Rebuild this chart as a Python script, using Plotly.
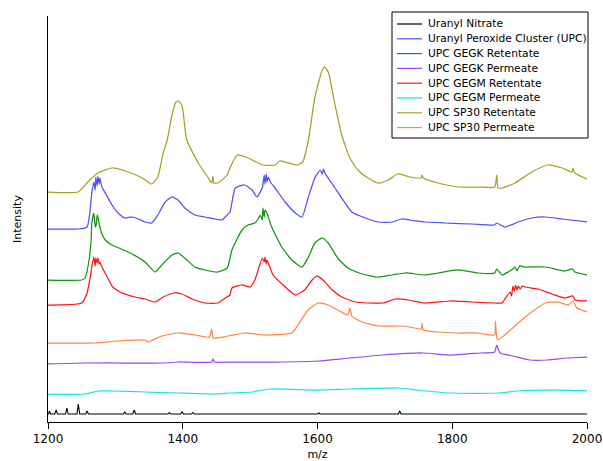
import plotly.graph_objects as go

# ---------------- data (stacked spectra, arbitrary intensity units) ----------------
names = [
    "Uranyl Nitrate",
    "Uranyl Peroxide Cluster (UPC)",
    "UPC GEGK Retentate",
    "UPC GEGK Permeate",
    "UPC GEGM Retentate",
    "UPC GEGM Permeate",
    "UPC SP30 Retentate",
    "UPC SP30 Permeate",
]
colors = ["#000000", "#4f4fff", "#129612", "#9a48f5", "#ff1414", "#10e4f2", "#a3a328", "#ff8448"]

un_mz = [1200, 1201, 1202, 1204, 1210, 1212, 1214, 1226, 1228, 1230, 1243, 1245, 1247, 1256, 1258, 1260,
         1312, 1314, 1316, 1326, 1328, 1330, 1378, 1380, 1382, 1397, 1399, 1401, 1413, 1415, 1417,
         1600, 1602, 1604, 1720, 1722, 1724, 2000]
un_i = [8, 8, 11, 8, 8, 12, 8, 8, 14, 8, 8, 18, 8, 8, 11, 8,
        8, 10, 8, 8, 12, 8, 8, 9.5, 8, 8, 10.5, 8, 8, 9.5, 8,
        8, 9, 8, 8, 11, 8, 8]

upc_mz = [1200, 1245, 1258, 1262, 1265, 1268, 1270, 1271, 1273, 1274, 1276, 1277, 1280, 1285, 1295, 1304,
          1314, 1325, 1334, 1344, 1354, 1363, 1374, 1384, 1393, 1403, 1418, 1433, 1448, 1458, 1463, 1470,
          1478, 1492, 1503, 1510, 1518, 1521, 1522, 1524, 1525, 1527, 1530, 1537, 1552, 1567, 1577, 1586,
          1596, 1604, 1607, 1609, 1611, 1626, 1641, 1651, 1671, 1690, 1711, 1725, 1737, 1760, 1789, 1829,
          1863, 1866, 1878, 1898, 1918, 1938, 1963, 2000]
upc_i = [193, 193, 195, 209, 229, 240, 232, 245, 236, 246, 238, 244, 235, 229, 217, 209,
         204, 205, 203, 200, 199, 207, 220, 225, 222, 214, 207, 205, 203, 202, 205, 210,
         234, 237, 232, 225, 234, 247, 238, 248, 240, 245, 240, 234, 220, 209, 205, 224,
         244, 252, 248, 253, 249, 234, 219, 210, 204, 200, 200, 203, 202, 200, 199, 198,
         197, 199, 195, 200, 204, 205, 203, 200]

gk_ret_mz = [1200, 1250, 1255, 1261, 1264, 1265, 1268, 1270, 1271, 1273, 1274, 1276, 1277, 1280, 1285, 1295,
             1319, 1344, 1359, 1369, 1384, 1393, 1403, 1418, 1433, 1452, 1466, 1473, 1488, 1497, 1507, 1512,
             1515, 1518, 1519, 1521, 1522, 1525, 1532, 1547, 1562, 1577, 1586, 1596, 1607, 1616, 1630, 1645,
             1666, 1690, 1711, 1730, 1760, 1779, 1809, 1838, 1863, 1866, 1874, 1883, 1890, 1893, 1896, 1900,
             1908, 1938, 1967, 1979, 1982, 2000]
gk_ret_i = [142, 142, 144, 162, 182, 199, 209, 196, 195, 207, 205, 198, 195, 188, 182, 177,
            170, 160, 150, 157, 167, 169, 164, 155, 152, 150, 154, 172, 192, 197, 199, 203,
            207, 202, 214, 205, 212, 209, 195, 175, 162, 155, 164, 179, 184, 179, 164, 154,
            148, 145, 147, 149, 147, 149, 152, 149, 149, 153, 147, 150, 153, 155, 151, 156,
            155, 155, 151, 153, 150, 147]

gk_per_mz = [1200, 1255, 1319, 1369, 1393, 1443, 1445, 1447, 1470, 1537, 1601, 1648, 1697, 1757, 1797,
             1841, 1863, 1866, 1871, 1890, 1915, 1941, 1970, 2000]
gk_per_i = [58, 59, 59, 59, 60, 60, 63, 60, 60, 60, 61, 64, 67, 69, 67,
            69, 70, 77, 69, 66, 62, 62, 64, 65]

gm_ret_mz = [1200, 1250, 1258, 1262, 1265, 1268, 1270, 1271, 1273, 1274, 1276, 1277, 1280, 1288, 1296, 1310,
             1329, 1344, 1359, 1371, 1386, 1399, 1414, 1433, 1452, 1463, 1470, 1473, 1488, 1500, 1507, 1512,
             1518, 1521, 1522, 1524, 1525, 1527, 1534, 1549, 1567, 1581, 1592, 1599, 1608, 1622, 1636, 1656,
             1675, 1697, 1715, 1734, 1760, 1797, 1829, 1863, 1874, 1878, 1886, 1888, 1890, 1892, 1894, 1896,
             1898, 1901, 1904, 1908, 1927, 1948, 1967, 1979, 1982, 2000]
gm_ret_i = [117, 119, 129, 142, 155, 165, 156, 164, 159, 164, 158, 160, 155, 145, 135, 129,
            125, 123, 120, 125, 129, 128, 123, 119, 119, 124, 127, 134, 137, 135, 142, 152,
            164, 160, 165, 158, 162, 159, 147, 137, 127, 132, 142, 146, 142, 132, 125, 120,
            119, 119, 123, 122, 119, 121, 120, 119, 119, 123, 130, 126, 136, 131, 137, 132,
            136, 133, 136, 135, 133, 128, 124, 126, 122, 121]

gm_per_mz = [1200, 1255, 1274, 1295, 1344, 1393, 1443, 1470, 1503, 1530, 1601, 1648, 1722, 1748, 1797,
             1871, 1896, 1945, 2000]
gm_per_i = [28, 28, 31, 31, 30, 29, 28, 29, 30, 33, 32, 33, 34, 32, 29,
            29, 31, 32, 31]

sp_ret_mz = [1200, 1245, 1259, 1274, 1295, 1319, 1340, 1354, 1363, 1371, 1377, 1384, 1390, 1394, 1399, 1406,
             1423, 1437, 1443, 1445, 1446, 1452, 1466, 1470, 1481, 1497, 1519, 1537, 1544, 1570, 1578, 1586,
             1596, 1607, 1611, 1616, 1626, 1636, 1648, 1660, 1675, 1690, 1705, 1719, 1737, 1754, 1755, 1757,
             1779, 1809, 1838, 1863, 1866, 1868, 1874, 1893, 1918, 1942, 1963, 1978, 1979, 1982, 2000]
sp_ret_i = [230, 230, 240, 249, 254, 250, 244, 238, 245, 269, 282, 307, 320, 321, 316, 282,
            259, 245, 239, 246, 239, 239, 247, 254, 267, 264, 257, 257, 261, 257, 260, 280,
            324, 352, 355, 350, 317, 287, 264, 252, 244, 239, 242, 248, 245, 244, 247, 244,
            239, 235, 235, 235, 247, 234, 234, 239, 250, 257, 254, 250, 254, 249, 243]

sp_per_mz = [1200, 1236, 1270, 1304, 1344, 1348, 1369, 1393, 1418, 1440, 1443, 1445, 1467, 1492, 1522, 1562,
             1571, 1586, 1601, 1616, 1630, 1645, 1648, 1651, 1666, 1690, 1719, 1737, 1754, 1755, 1757, 1779,
             1809, 1838, 1863, 1864, 1867, 1878, 1898, 1918, 1938, 1957, 1972, 1979, 1985, 2000]
sp_per_i = [79, 79, 79, 81, 82, 80, 86, 89, 87, 85, 93, 84, 86, 89, 87, 89,
            97, 112, 119, 117, 112, 107, 114, 106, 100, 96, 96, 95, 93, 99, 92, 90,
            89, 89, 87, 101, 82, 87, 99, 110, 119, 120, 117, 121, 114, 110]

x_data = [un_mz, upc_mz, gk_ret_mz, gk_per_mz, gm_ret_mz, gm_per_mz, sp_ret_mz, sp_per_mz]
y_data = [un_i, upc_i, gk_ret_i, gk_per_i, gm_ret_i, gm_per_i, sp_ret_i, sp_per_i]

x_ticks = [1200, 1400, 1600, 1800, 2000]

# ---------------- figure ----------------
fig = go.Figure()
for k, (nm, col, xs, ys) in enumerate(zip(names, colors, x_data, y_data)):
    if k == 0:
        ln = dict(color=col, width=1.1)
    else:
        ln = dict(color=col, width=1.25, shape="spline", smoothing=0.5)
    fig.add_trace(go.Scatter(x=xs, y=ys, mode="lines", name=nm, line=ln, showlegend=False))

FONT = "DejaVu Sans"
# plot area in pixels (for the hand-drawn legend box)
L, R, T, B = 48, 587, 16, 422
def px(x):
    return (x - L) / (R - L)
def py(y):
    return (B - y) / (B - T)

shapes = [dict(type="rect", xref="paper", yref="paper",
               x0=px(392), x1=px(588), y0=py(138), y1=py(12),
               line=dict(color="#000000", width=1), fillcolor="white", layer="above")]
annotations = []
for i, (nm, col) in enumerate(zip(names, colors)):
    yy = 24 + i * 14.8
    shapes.append(dict(type="line", xref="paper", yref="paper",
                       x0=px(397), x1=px(422), y0=py(yy), y1=py(yy),
                       line=dict(color=col, width=1.2), layer="above"))
    annotations.append(dict(xref="paper", yref="paper", x=px(426), y=py(yy),
                            xanchor="left", yanchor="middle", showarrow=False,
                            text=nm, font=dict(family=FONT, size=10.7, color="#000000")))

fig.update_layout(
    width=603, height=461,
    margin=dict(l=L, r=603 - R, t=T, b=461 - B),
    paper_bgcolor="white", plot_bgcolor="white",
    font=dict(family=FONT, size=12, color="#000000"),
    shapes=shapes, annotations=annotations,
    xaxis=dict(range=[1200, 2000], tickvals=x_ticks, ticktext=[str(v) for v in x_ticks],
               ticks="outside", ticklen=6, tickcolor="#000000", showline=True, linecolor="#000000",
               linewidth=1, showgrid=False, zeroline=False, title=dict(text="m/z", standoff=4,
               font=dict(size=11)), automargin=False),
    yaxis=dict(range=[0, 406], showticklabels=False, ticks="", showline=True, linecolor="#000000",
               linewidth=1, showgrid=False, zeroline=False,
               title=dict(text="Intensity", standoff=23, font=dict(size=11)), automargin=False),
)

fig.write_html("out.html")
